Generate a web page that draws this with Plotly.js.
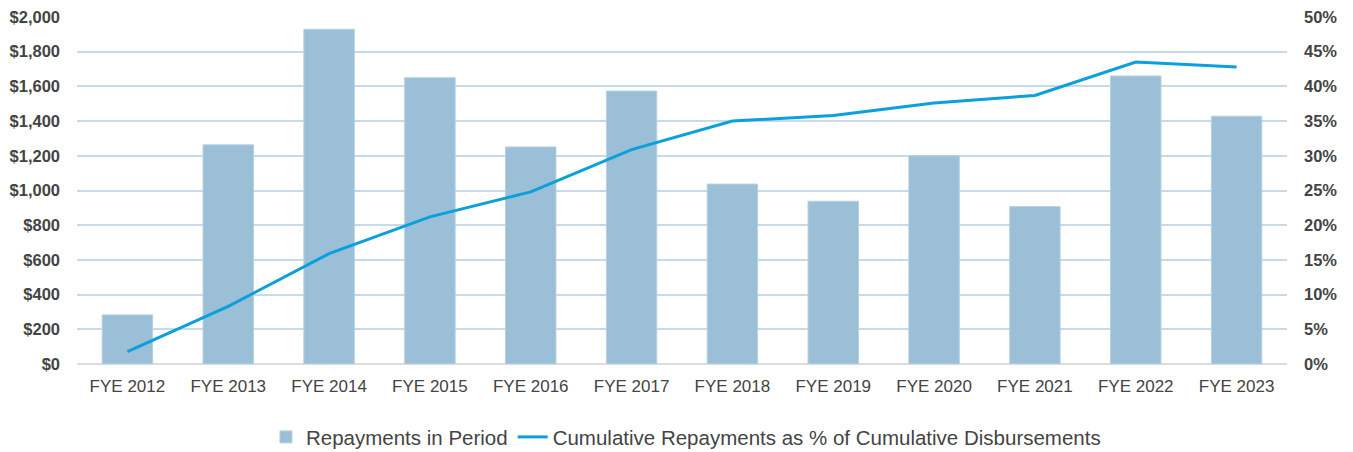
<!DOCTYPE html>
<html>
<head>
<meta charset="utf-8">
<script src="https://cdn.plot.ly/plotly-3.0.1.min.js"></script>
<style>html,body{margin:0;padding:0;background:#fff;}#chart{width:1353px;height:452px;}</style>
</head>
<body>
<div id="chart"></div>
<script>
const categories = ["FYE 2012","FYE 2013","FYE 2014","FYE 2015","FYE 2016","FYE 2017","FYE 2018","FYE 2019","FYE 2020","FYE 2021","FYE 2022","FYE 2023"];
const repayments = [283, 1263, 1929, 1650, 1251, 1573, 1037, 938, 1200, 907, 1660, 1428];
const cumulativePct = [1.8, 8.3, 15.9, 21.2, 24.8, 30.9, 35.0, 35.8, 37.6, 38.7, 43.5, 42.8];
const leftTicks = [0,200,400,600,800,1000,1200,1400,1600,1800,2000];
const leftTickText = ["$0","$200","$400","$600","$800","$1,000","$1,200","$1,400","$1,600","$1,800","$2,000"];
const rightTicks = [0,5,10,15,20,25,30,35,40,45,50];
const rightTickText = ["0%","5%","10%","15%","20%","25%","30%","35%","40%","45%","50%"];

const font = "'Liberation Sans', Arial, sans-serif";

const traces = [
  {
    type: "bar", name: "Repayments in Period", x: categories, y: repayments,
    marker: {color: "#9bbfd7", line: {color: "#b5d0e2", width: 1}}, yaxis: "y"
  },
  {
    type: "scatter", mode: "lines", name: "Cumulative Repayments as % of Cumulative Disbursements",
    x: categories, y: cumulativePct, yaxis: "y2",
    line: {color: "#0a9fdd", width: 3}
  }
];

const layout = {
  width: 1353, height: 452,
  margin: {l: 77, r: 66, t: 17, b: 88},
  paper_bgcolor: "#fff", plot_bgcolor: "#fff",
  bargap: 0.5,
  showlegend: true,
  legend: {orientation: "h", x: 0.507, xanchor: "center", xref: "container",
           y: 0.033, yanchor: "middle", yref: "container",
           font: {family: font, size: 20.5, color: "#444"}, traceorder: "normal"},
  xaxis: {
    type: "category", tickfont: {family: font, size: 17, color: "#444"},
    showgrid: false, showline: false, ticks: "", zeroline: false, automargin: false,
    ticklabelstandoff: 10
  },
  yaxis: {
    range: [0, 2000], tickmode: "array", tickvals: leftTicks, ticktext: leftTickText,
    tickfont: {family: font, size: 16.5, color: "#444", weight: "bold"},
    showgrid: true, gridcolor: "#c6dae9", gridwidth: 2, zeroline: true, zerolinecolor: "#dcdcdc", zerolinewidth: 2,
    ticks: "", showline: false, ticklabelstandoff: 16, automargin: false
  },
  yaxis2: {
    range: [0, 50], tickmode: "array", tickvals: rightTicks, ticktext: rightTickText, overlaying: "y", side: "right",
    tickfont: {family: font, size: 16.5, color: "#444", weight: "bold"},
    showgrid: false, zeroline: false, showline: false, ticks: "", ticklabelstandoff: 16, automargin: false
  }
};

Plotly.newPlot("chart", traces, layout, {displayModeBar: false, staticPlot: true});
</script>
</body>
</html>
